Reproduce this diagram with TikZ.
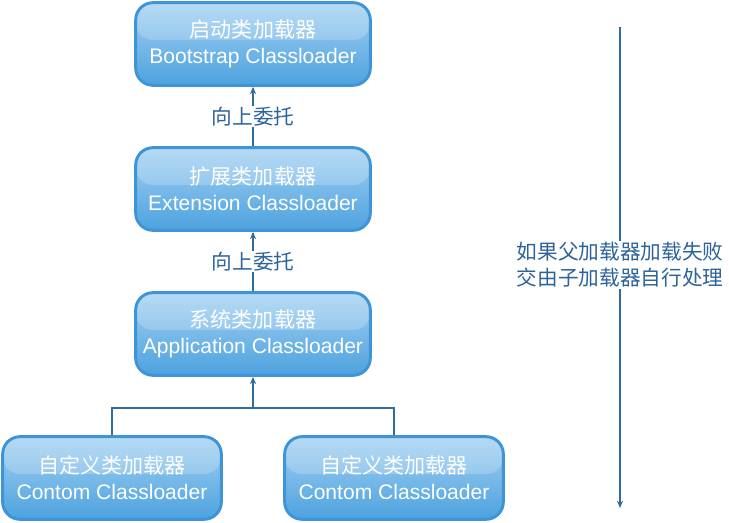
\documentclass[tikz,border=0pt]{standalone}
\usepackage{fontspec}
\setmainfont{Liberation Sans}
\newfontfamily\cjk{Noto Sans CJK SC}
\usepackage{tikz}
\usetikzlibrary{arrows.meta}
\tikzset{>={Stealth[length=5.5pt,width=4.5pt]}}
\definecolor{boxline}{HTML}{3D95D8}
\definecolor{boxtop}{HTML}{A4D1F2}
\definecolor{boxbot}{HTML}{4DA2DF}
\definecolor{linkblue}{HTML}{2E6E9E}
\definecolor{labelblue}{HTML}{2D639A}
\tikzset{
  loader/.style={draw=boxline, line width=2.2pt, rounded corners=13pt,
    minimum width=176pt, minimum height=62pt, top color=boxtop, bottom color=boxbot,
    text=white, align=center, font=\fontsize{15.8}{19.5}\selectfont,
    path picture={\fill[white, opacity=0.2] (path picture bounding box.north west)
      rectangle ([yshift=3pt]path picture bounding box.east);}},
  smallloader/.style={loader, minimum width=164pt},
  link/.style={linkblue, line width=0.8pt},
  tag/.style={fill=white, text=labelblue, inner sep=1pt, align=left,
    font=\fontsize{15.5}{19.5}\selectfont\cjk}
}

\begin{document}
\begin{tikzpicture}[x=0.75pt, y=-0.75pt]
\useasboundingbox (0,0) rectangle (729,523);
% loaders
\node[loader] (boot) at (253,44) {{\cjk 启动类加载器}\\Bootstrap Classloader};
\node[loader] (ext) at (253,189) {{\cjk 扩展类加载器}\\Extension Classloader};
\node[loader] (app) at (253,334) {{\cjk 系统类加载器}\\Application Classloader};
\node[smallloader] (custA) at (112,478) {{\cjk 自定义类加载器}\\Contom Classloader};
\node[smallloader] (custB) at (394,478) {{\cjk 自定义类加载器}\\Contom Classloader};
% delegation upwards
\draw[link, ->] (ext) -- node[tag] {向上委托} (boot);
\draw[link, ->] (app) -- node[tag] {向上委托} (ext);
\coordinate (fork) at (253,408);
\draw[link] (custA.north) |- (fork) -| (custB.north);
\draw[link, ->] (fork) -- (app);
% fallback downwards
\coordinate (rtop) at (620,27);
\coordinate (rbot) at (620,508);
\node[tag, fill=none] (fallback) at (620,265) {如果父加载器加载失败\\交由子加载器自行处理};
\draw[link] (rtop) -- (fallback.north);
\draw[link, ->] (fallback.south) -- (rbot);
\end{tikzpicture}
\end{document}
